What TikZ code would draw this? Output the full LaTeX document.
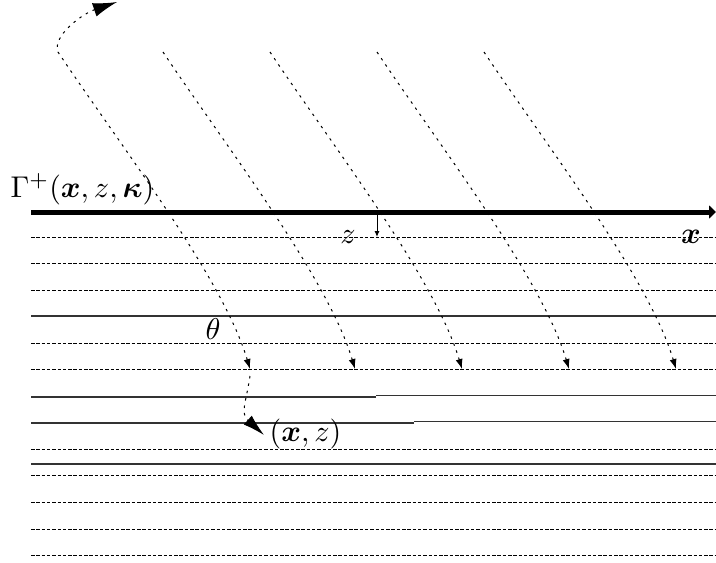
\documentclass[tikz,border=0pt]{standalone}
\usepackage{amsmath}
\usetikzlibrary{arrows.meta}
\tikzset{
  dotline/.style={line width=1pt, dash pattern=on 3.5pt off 1.8pt},
  solidline/.style={line width=1.3pt, draw=black!80},
  ray/.style={line width=1pt, dash pattern=on 2.5pt off 5pt},
  lbl/.style={scale=3.0, inner sep=0pt},
}
\begin{document}
\begin{tikzpicture}[x=1pt,y=-1pt]
\useasboundingbox (0,0) rectangle (716,563);
% horizontal layers
\foreach \yy in {237,263,290,343,369,449,475,502,529,555}
  \draw[dotline] (31,\yy) -- (716,\yy);
\draw[solidline] (31,316) -- (716,316);
\draw[solidline] (31,397) -- (376,397);
\draw[solidline] (376,395.8) -- (716,395.8);
\draw[solidline] (31,423) -- (414,423);
\draw[solidline] (414,421.8) -- (716,421.8);
\draw[solidline] (31,464) -- (716,464);
% rays
\foreach \tx in {355,462,569,676}{
  \draw[ray, -{Latex[length=10pt,width=7pt]}]
    (\tx-192,52) .. controls (\tx-130,145) and (\tx-27,278) .. (\tx,369);
}
\draw[ray, {Latex[length=24pt,width=14pt]}-{Latex[length=10pt,width=7pt]}]
  (117,2) .. controls (82,14) and (52,36) .. (58,52)
  .. controls (120,145) and (223,278) .. (250,369);
\draw[ray, -{Latex[length=22pt,width=12pt]}]
  (250,376) .. controls (246,403) and (240,413) .. (264,435);
% axis
\draw[line width=5pt, -{Triangle[length=7pt,width=13pt]}] (31,212) -- (716,212);
\draw[line width=1pt, -{Latex[length=6pt,width=5pt]}] (377,214) -- (377,237);
% labels
\node[lbl, anchor=base west] (gamma) at (10,197) {$\Gamma^+(\boldsymbol{x},z,\boldsymbol{\kappa})$};
\node[lbl, anchor=base] (zl) at (348,243) {$z$};
\node[lbl, anchor=base] (xl) at (691,243) {$\boldsymbol{x}$};
\node[lbl, anchor=base] (th) at (213,339) {$\theta$};
\node[lbl, anchor=base west] (xz) at (269,441) {$(\boldsymbol{x},z)$};
\end{tikzpicture}
\end{document}
